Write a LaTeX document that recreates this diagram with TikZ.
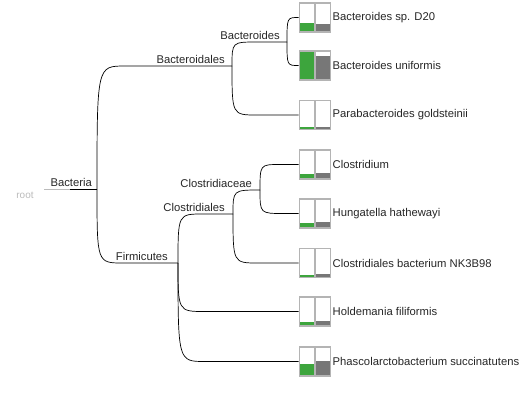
\documentclass[tikz,border=0pt]{standalone}
\usepackage{fontspec}
\setmainfont{Liberation Sans}
\usetikzlibrary{calc}
\definecolor{barGreen}{HTML}{3DA53D}
\definecolor{barGray}{HTML}{777777}
\definecolor{boxGray}{HTML}{B4B4B4}
\definecolor{rootGray}{HTML}{BBBBBB}
\begin{document}
\begin{tikzpicture}[x=1bp,y=-1bp,
  edge/.style={line width=0.7bp, black},
  clade/.style={font=\fontsize{11.3}{13}\selectfont, anchor=base east, inner sep=0pt, text=black!85},
  leaflab/.style={font=\fontsize{11.3}{13}\selectfont, anchor=west, inner sep=0pt, text=black!85},
  cell/.style={draw=boxGray, line width=1.2bp}]
\useasboundingbox (0,0) rectangle (531,396);

% root
\node[font=\fontsize{10}{12}\selectfont, text=rootGray, anchor=center, inner sep=0pt] (rootlab) at (25,195) {root};
\coordinate (R) at (44,189);
\coordinate (Rm) at (70,189);
\coordinate (B) at (97,189);
\draw[line width=0.7bp, rootGray] (R) -- (Rm);
\draw[edge] (Rm) -- (B);

% internal nodes
\coordinate (Bd) at (232,66);
\coordinate (BdIn) at (125,66);
\coordinate (F) at (178,263);
\coordinate (FIn) at (123,263);
\coordinate (Bs) at (287,42);
\coordinate (BsIn) at (257,42);
\coordinate (Cl) at (233,214);
\coordinate (ClIn) at (203,214);
\coordinate (Cc) at (260,190);

% leaves
\foreach \i/\y/\g/\h/\t in {
  1/17.5/0.32/0.26/Bacteroides sp. D20,
  2/65.5/1.00/0.83/Bacteroides uniformis,
  3/115/0.07/0.10/Parabacteroides goldsteinii,
  4/164.5/0.17/0.20/Clostridium,
  5/213.5/0.16/0.22/Hungatella hathewayi,
  6/263/0.08/0.12/Clostridiales bacterium NK3B98,
  7/311.5/0.15/0.17/Holdemania filiformis,
  8/361.5/0.40/0.52/Phascolarctobacterium succinatutens}{
  \pgfmathsetmacro{\yb}{\y+14.5}
  \pgfmathsetmacro{\yt}{\y-14.5}
  \pgfmathsetmacro{\yg}{\yb-29*\g}
  \pgfmathsetmacro{\yh}{\yb-29*\h}
  \coordinate (L\i) at (298.5,\y);
  \fill[barGreen] (299.3,\yb) rectangle (314.3,\yg);
  \fill[barGray] (315.3,\yb) rectangle (330.3,\yh);
  \draw[cell] (299.3,\yt) rectangle (314.3,\yb);
  \draw[cell] (315.3,\yt) rectangle (330.3,\yb);
  \node[leaflab] (T\i) at (332.5,\y) {\t};
}

% edges
\draw[edge] (B) .. controls (B |- BdIn) .. (BdIn) -- (Bd);
\draw[edge] (B) .. controls (B |- FIn) .. (FIn) -- (F);
\draw[edge] (Bd) .. controls (Bd |- BsIn) .. (BsIn) -- (Bs);
\draw[edge] (Bd) .. controls (Bd |- L3) .. (257,115) -- (L3);
\draw[edge] (Bs) .. controls (Bs |- L1) .. (L1);
\draw[edge] (Bs) .. controls (Bs |- L2) .. (L2);
\draw[edge] (F) .. controls (F |- ClIn) .. (ClIn) -- (Cl);
\draw[edge] (F) .. controls (F |- L7) .. (205,311.5) -- (L7);
\draw[edge] (F) .. controls (F |- L8) .. (205,361.5) -- (L8);
\draw[edge] (Cl) .. controls (Cl |- Cc) .. (Cc);
\draw[edge] (Cl) .. controls (Cl |- L6) .. (258,263) -- (L6);
\draw[edge] (Cc) .. controls (Cc |- L4) .. (280,164.5) -- (L4);
\draw[edge] (Cc) .. controls (Cc |- L5) .. (284,213.5) -- (L5);

% clade labels
\node[clade] (labB) at ($(B)+(-5,-2.5)$) {Bacteria};
\node[clade] (labBd) at ($(Bd)+(-7,-2.5)$) {Bacteroidales};
\node[clade] (labBs) at ($(Bs)+(-7,-2.5)$) {Bacteroides};
\node[clade] (labF) at ($(F)+(-10,-2.5)$) {Firmicutes};
\node[clade] (labCl) at ($(Cl)+(-8,-2.5)$) {Clostridiales};
\node[clade] (labCc) at ($(Cc)+(-8,-3)$) {Clostridiaceae};
\end{tikzpicture}
\end{document}
